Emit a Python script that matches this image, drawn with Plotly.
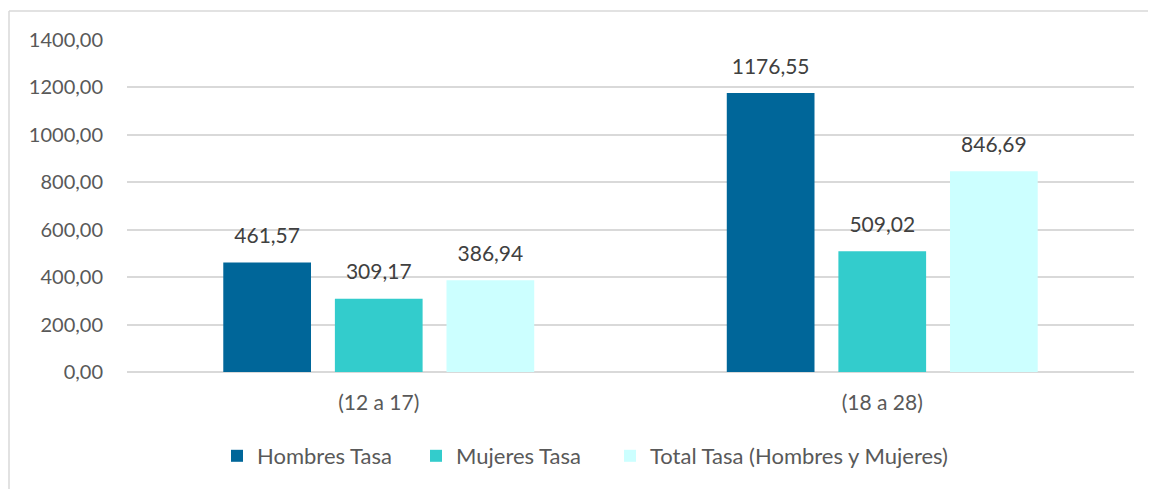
import plotly.graph_objects as go

categories = ["(12 a 17)", "(18 a 28)"]
series_names = ["Hombres Tasa", "Mujeres Tasa", "Total Tasa (Hombres y Mujeres)"]
hombres = [461.57, 1176.55]
mujeres = [309.17, 509.02]
total = [386.94, 846.69]
colors = ["#006699", "#33CCCC", "#CCFFFF"]
y_ticks = [0, 200, 400, 600, 800, 1000, 1200, 1400]

FONT = "Lato, 'Open Sans', sans-serif"
TXT = "#595959"
legend_ids = ["legend", "legend2", "legend3"]

fig = go.Figure()
for i, (name, vals, col) in enumerate(zip(series_names, [hombres, mujeres, total], colors)):
    fig.add_trace(go.Bar(
        x=categories, y=vals, name=name, offsetgroup=str(i), legend=legend_ids[i],
        marker=dict(color=col, line=dict(width=0)),
    ))
for i, vals in enumerate([hombres, mujeres, total]):
    fig.add_trace(go.Scatter(
        x=categories, y=vals, mode="markers+text", offsetgroup=str(i),
        marker=dict(size=21, color="rgba(0,0,0,0)"),
        texttemplate="%{y:.2f}", textposition="top center",
        textfont=dict(size=21, color="#404040", family=FONT),
        showlegend=False, hoverinfo="skip", cliponaxis=False,
    ))

# page body has an 8px offset
OFF = 8
W, H = 1156 - OFF, 489 - OFF
ml, mt = 127 - OFF, 40 - OFF
mr = W - (1134 - OFF)
mb = H - (372 - OFF)
pw, ph = W - ml - mr, H - mt - mb

leg_y = (372 - 456) / ph
leg_common = dict(orientation="h", xanchor="left", y=leg_y, yanchor="middle",
                  font=dict(size=22, color=TXT), bgcolor="rgba(0,0,0,0)")

fig.update_layout(
    width=W, height=H,
    margin=dict(l=ml, r=mr, t=mt, b=mb),
    paper_bgcolor="white", plot_bgcolor="white",
    separators=",.",
    barmode="group", bargap=0.335, bargroupgap=0.214,
    scattermode="group", scattergap=0.335,
    font=dict(family=FONT, color=TXT, size=20),
    showlegend=True,
    legend=dict(x=(217 - 127) / pw, **leg_common),
    legend2=dict(x=(416 - 127) / pw, **leg_common),
    legend3=dict(x=(610 - 127) / pw, **leg_common),
    xaxis=dict(showgrid=False, showline=False, ticks="", ticklabelstandoff=16,
               tickfont=dict(size=21, color=TXT)),
    yaxis=dict(range=[0, 1400], tickvals=y_ticks, tickformat=".2f",
               showgrid=True, gridcolor="#D9D9D9", gridwidth=1.5,
               zeroline=True, zerolinecolor="#D9D9D9", zerolinewidth=1.5,
               showline=False, ticks="", ticklen=0, ticklabelstandoff=23,
               tickfont=dict(size=20, color=TXT)),
    shapes=[
        dict(type="line", xref="paper", yref="paper",
             x0=(9 - 127) / pw, x1=(1160 - 127) / pw,
             y0=1 + (40 - 11) / ph, y1=1 + (40 - 11) / ph,
             line=dict(color="#D9D9D9", width=1.5)),
        dict(type="line", xref="paper", yref="paper",
             x0=(9 - 127) / pw, x1=(9 - 127) / pw,
             y0=1 + (40 - 11) / ph, y1=(372 - 495) / ph,
             line=dict(color="#D9D9D9", width=1.5)),
    ],
)

fig.write_html("out.html")
